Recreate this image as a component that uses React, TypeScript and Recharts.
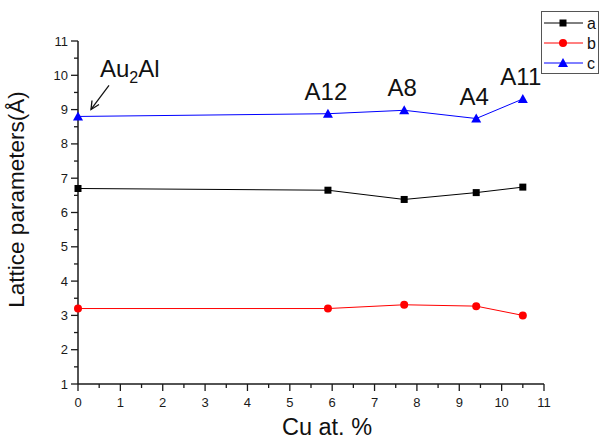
import { LineChart, Line, XAxis, YAxis, LabelList } from "recharts";

// ─── Data ───────────────────────────────────────────────
const cuContent = [0, 5.9, 7.7, 9.4, 10.5];
const aValues = [6.7, 6.65, 6.38, 6.58, 6.74];
const bValues = [3.2, 3.2, 3.31, 3.27, 3.0];
const cValues = [8.8, 8.88, 8.98, 8.74, 9.31];
const phaseLabels = ["Au2Al", "A12", "A8", "A4", "A11"];

const xMajorTicks = [0, 1, 2, 3, 4, 5, 6, 7, 8, 9, 10, 11];
const yMajorTicks = [1, 2, 3, 4, 5, 6, 7, 8, 9, 10, 11];

const seriesKeys = ["a", "b", "c"];
const seriesColors = ["#000000", "#ff0000", "#0000ff"];

const rows = cuContent.map((x, i) => ({
    x,
    a: aValues[i],
    b: bValues[i],
    c: cValues[i],
    phase: phaseLabels[i],
}));

// major + minor (half-step) ticks
const withMinor = (majors: number[]) =>
    majors.flatMap((v, i) => (i < majors.length - 1 ? [v, v + 0.5] : [v]));

const FONT = "'Liberation Sans', Arial, sans-serif";
const AXIS = "#1a1a1a";

// ─── Markers ────────────────────────────────────────────
function Marker({ kind, cx, cy }: { kind: string; cx: number; cy: number }) {
    if (kind === "a")
        return <rect x={cx - 3.5} y={cy - 3.5} width={7} height={7} fill="#000" />;
    if (kind === "b") return <circle cx={cx} cy={cy} r={4} fill="#ff0000" />;
    return (
        <path
            d={`M${cx},${cy - 5} L${cx + 5},${cy + 4} L${cx - 5},${cy + 4} Z`}
            fill="#0000ff"
        />
    );
}

const dotFor = (kind: string) => (p: any) =>
    <Marker key={`${kind}-${p.index}`} kind={kind} cx={p.cx} cy={p.cy} />;

// ─── Ticks ──────────────────────────────────────────────
function XTick({ x, y, payload }: any) {
    const major = Number.isInteger(payload.value);
    return (
        <g>
            <line x1={x} x2={x} y1={y} y2={y + (major ? 7 : 4)} stroke={AXIS} strokeWidth={1.3} />
            {major && (
                <text x={x} y={y + 23} textAnchor="middle" fontSize={13} fill="#1a1a1a" fontFamily={FONT}>
                    {payload.value}
                </text>
            )}
        </g>
    );
}

function YTick({ x, y, payload }: any) {
    const major = Number.isInteger(payload.value);
    return (
        <g>
            <line x1={x - (major ? 7 : 4)} x2={x} y1={y} y2={y} stroke={AXIS} strokeWidth={1.3} />
            {major && (
                <text x={x - 10} y={y + 4.5} textAnchor="end" fontSize={13} fill="#1a1a1a" fontFamily={FONT}>
                    {payload.value}
                </text>
            )}
        </g>
    );
}

// ─── Phase annotations ──────────────────────────────────
function PhaseLabel({ x, y, value, index }: any) {
    if (index === 0) {
        // Au2Al with arrow pointing at first point
        const tx = x + 22;
        const ty = y - 39;
        const ax1 = x + 31, ay1 = y - 31, ax2 = x + 13, ay2 = y - 7;
        return (
            <g>
                <text x={tx} y={ty} fontSize={24} fill="#111" fontFamily={FONT}>
                    Au<tspan fontSize={16} dy={6}>2</tspan>
                    <tspan dy={-6}>Al</tspan>
                </text>
                <line x1={ax1} y1={ay1} x2={ax2} y2={ay2} stroke="#111" strokeWidth={1.3} />
                <path
                    d={`M${ax2 + 1},${ay2 - 9} L${ax2},${ay2} L${ax2 + 8},${ay2 - 5}`}
                    fill="none"
                    stroke="#111"
                    strokeWidth={1.3}
                />
            </g>
        );
    }
    return (
        <text x={x - 2} y={y - 14} textAnchor="middle" fontSize={24} fill="#111" fontFamily={FONT}>
            {value}
        </text>
    );
}

// ─── Legend ─────────────────────────────────────────────
function LegendBox() {
    return (
        <svg
            width={600}
            height={440}
            style={{ position: "absolute", left: 0, top: 0, pointerEvents: "none" }}
        >
            <rect x={541.5} y={11.5} width={57} height={62} fill="#fff" stroke="#555" strokeWidth={1} />
            {seriesKeys.map((k, i) => {
                const cy = 23 + i * 20;
                return (
                    <g key={k}>
                        <line x1={544} x2={583} y1={cy} y2={cy} stroke={seriesColors[i]} strokeWidth={1} />
                        <Marker kind={k} cx={563} cy={cy} />
                        <text x={587} y={cy + 6} fontSize={16} fill="#111" fontFamily={FONT}>
                            {k}
                        </text>
                    </g>
                );
            })}
        </svg>
    );
}

// ─── Component ──────────────────────────────────────────
export default function App() {
    return (
        <div style={{ position: "absolute", left: 0, top: 0, width: 600, height: 440, background: "#fff" }}>
            <LineChart
                width={600}
                height={440}
                data={rows}
                margin={{ top: 41, right: 56, left: 0, bottom: 0 }}
            >
                <XAxis
                    dataKey="x"
                    type="number"
                    domain={[0, 11]}
                    ticks={withMinor(xMajorTicks)}
                    interval={0}
                    height={56}
                    tickSize={0}
                    tickMargin={0}
                    tickLine={false}
                    tick={<XTick />}
                    axisLine={{ stroke: AXIS, strokeWidth: 1.5 }}
                    label={{
                        value: "Cu at. %",
                        position: "insideBottom",
                        offset: 5,
                        dx: 16,
                        fontSize: 23.5,
                        fill: "#111",
                        fontFamily: FONT,
                    }}
                />
                <YAxis
                    type="number"
                    domain={[1, 11]}
                    ticks={withMinor(yMajorTicks)}
                    interval={0}
                    width={78}
                    tickSize={0}
                    tickMargin={0}
                    tickLine={false}
                    tick={<YTick />}
                    axisLine={{ stroke: AXIS, strokeWidth: 1.5 }}
                    label={{
                        value: "Lattice parameters(Å)",
                        angle: -90,
                        position: "insideLeft",
                        offset: 16,
                        dy: -13,
                        style: { textAnchor: "middle" },
                        fontSize: 22.5,
                        fill: "#111",
                        fontFamily: FONT,
                    }}
                />
                {seriesKeys.map((k, i) => (
                    <Line
                        key={k}
                        type="linear"
                        dataKey={k}
                        stroke={seriesColors[i]}
                        strokeWidth={1}
                        dot={dotFor(k)}
                        activeDot={false}
                        isAnimationActive={false}
                    >
                        {k === "c" && <LabelList dataKey="phase" content={<PhaseLabel />} />}
                    </Line>
                ))}
            </LineChart>
            <LegendBox />
        </div>
    );
}
